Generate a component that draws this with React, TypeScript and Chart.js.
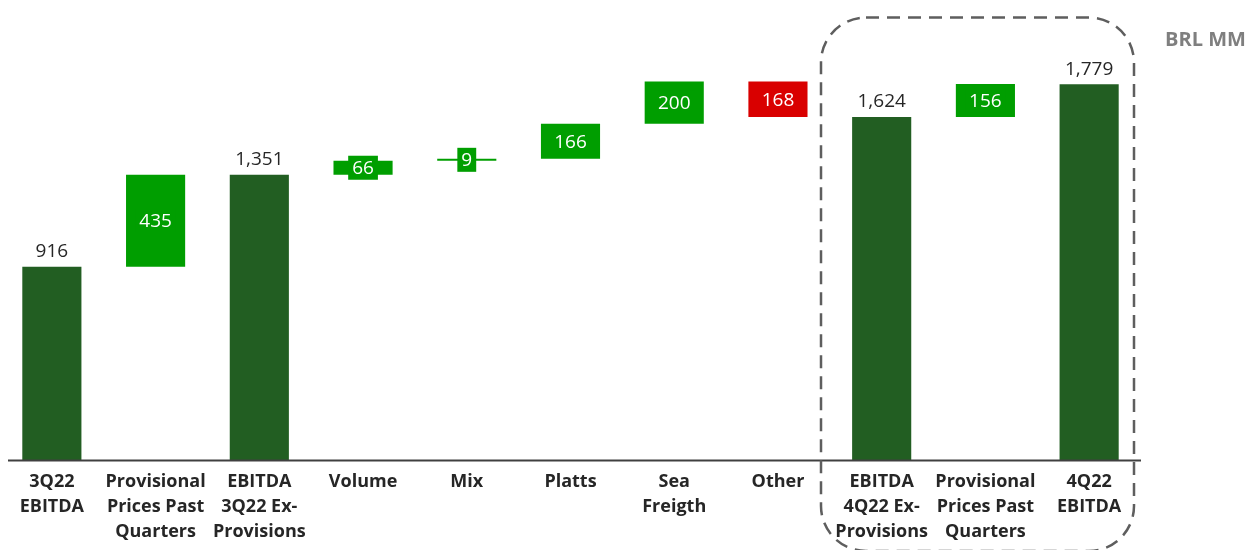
import React, { useEffect, useRef } from "react";
import { Chart, registerables } from "chart.js";

Chart.register(...registerables);

const categories: string[][] = [
  ["3Q22", "EBITDA"],
  ["Provisional", "Prices Past", "Quarters"],
  ["EBITDA", "3Q22 Ex-", "Provisions"],
  ["Volume"],
  ["Mix"],
  ["Platts"],
  ["Sea", "Freigth"],
  ["Other"],
  ["EBITDA", "4Q22 Ex-", "Provisions"],
  ["Provisional", "Prices Past", "Quarters"],
  ["4Q22", "EBITDA"],
];
const kinds: string[] = ["total", "delta", "total", "delta", "delta", "delta", "delta", "delta", "total", "delta", "total"];
const values: number[] = [916, 435, 1351, 66, 9, 166, 200, -168, 1624, 156, 1779];
const unitLabel = "BRL MM";

const TOTAL_COLOR = "#225E22";
const UP_COLOR = "#009E00";
const DOWN_COLOR = "#D90000";
const FONT = "'Open Sans', 'DejaVu Sans', sans-serif";

function buildRanges(): [number, number][] {
  let run = 0;
  return values.map((v, i) => {
    if (kinds[i] === "total") {
      run = v;
      return [0, v] as [number, number];
    }
    const s = run;
    run = run + v;
    return [s, run] as [number, number];
  });
}

function fmt(n: number): string {
  return Math.abs(n).toLocaleString("en-US");
}

export default function App() {
  const ref = useRef<HTMLCanvasElement | null>(null);

  useEffect(() => {
    const canvas = ref.current;
    if (!canvas) return;
    const ranges = buildRanges();
    const colors = values.map((v, i) => (kinds[i] === "total" ? TOTAL_COLOR : v >= 0 ? UP_COLOR : DOWN_COLOR));

    const labelsPlugin = {
      id: "wfLabels",
      afterDatasetsDraw(chart: any) {
        const ctx = chart.ctx as CanvasRenderingContext2D;
        const meta = chart.getDatasetMeta(0);
        ctx.save();
        ctx.textAlign = "center";
        ctx.textBaseline = "middle";
        ctx.font = `19px ${FONT}`;
        meta.data.forEach((bar: any, i: number) => {
          const txt = fmt(values[i]);
          const top = Math.min(bar.y, bar.base);
          const bottom = Math.max(bar.y, bar.base);
          if (kinds[i] === "total") {
            ctx.fillStyle = "#262626";
            ctx.fillText(txt, bar.x, top - 15);
          } else {
            const cy = (top + bottom) / 2;
            const w = ctx.measureText(txt).width + 8;
            const h = 24;
            ctx.fillStyle = colors[i];
            ctx.fillRect(bar.x - w / 2, cy - h / 2, w, h);
            ctx.fillStyle = "#FFFFFF";
            ctx.fillText(txt, bar.x, cy + 1);
          }
        });
        ctx.restore();
      },
      afterDraw(chart: any) {
        const ctx = chart.ctx as CanvasRenderingContext2D;
        const area = chart.chartArea;
        ctx.save();
        ctx.strokeStyle = "#404040";
        ctx.lineWidth = 2;
        ctx.beginPath();
        ctx.moveTo(8, area.bottom);
        ctx.lineTo(area.right, area.bottom);
        ctx.stroke();
        ctx.strokeStyle = "#5E5E5E";
        ctx.lineWidth = 2.5;
        ctx.setLineDash([13, 8]);
        ctx.beginPath();
        (ctx as any).roundRect(821, 17.5, 313, 533.5, 45);
        ctx.stroke();
        ctx.setLineDash([]);
        ctx.fillStyle = "#7F7F7F";
        ctx.font = `bold 20px ${FONT}`;
        ctx.textAlign = "left";
        ctx.textBaseline = "middle";
        ctx.fillText(unitLabel, 1165, 40);
        ctx.restore();
      },
    };

    const chart = new Chart(canvas, {
      type: "bar",
      data: {
        labels: categories as any,
        datasets: [
          {
            data: ranges as any,
            backgroundColor: colors,
            borderWidth: 0,
            barPercentage: 0.57,
            categoryPercentage: 1,
          },
        ],
      },
      options: {
        responsive: false,
        animation: false,
        devicePixelRatio: 1,
        layout: { padding: { left: 0, right: 107, top: 0, bottom: 0 } },
        plugins: { legend: { display: false }, tooltip: { enabled: false } },
        scales: {
          y: { display: false, min: 0, max: 2177 },
          x: {
            grid: { display: false, drawTicks: false },
            border: { display: false },
            afterFit: (scale: any) => {
              scale.height = 89.5;
            },
            ticks: {
              maxRotation: 0,
              autoSkip: false,
              padding: 9,
              color: "#262626",
              font: { family: FONT, size: 18, weight: "bold", lineHeight: 1.39 },
            },
          },
        },
      },
      plugins: [labelsPlugin],
    });
    return () => chart.destroy();
  }, []);

  return (
    <div style={{ position: "absolute", left: 0, top: 0, width: 1248, height: 550, background: "#fff" }}>
      <canvas ref={ref} width={1248} height={550} style={{ width: 1248, height: 550 }} />
    </div>
  );
}
